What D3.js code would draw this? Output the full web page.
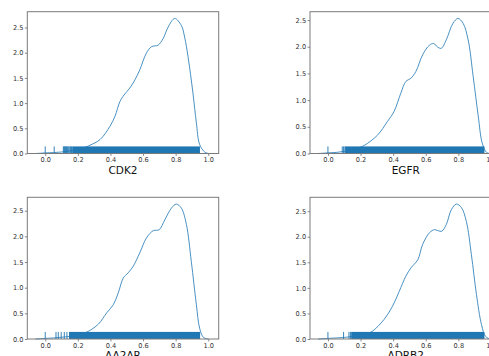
<!DOCTYPE html>
<html>
<head>
<meta charset="utf-8">
<script src="https://cdn.jsdelivr.net/npm/d3@7"></script>
<style>
  html, body { margin: 0; padding: 0; background: #fff; overflow: hidden; }
  svg { display: block; }
</style>
</head>
<body>
<svg id="chart" width="489" height="356"></svg>
<script>
// Target names shown under each panel
const targets = ["CDK2", "EGFR", "AA2AR", "ADRB2"];

// Kernel density estimates (score vs. density) for each target
const cdk2X = [-0.06, -0.03, 0.0, 0.05, 0.1, 0.15, 0.2, 0.25, 0.275, 0.336, 0.397, 0.428, 0.458, 0.483, 0.519, 0.55, 0.58, 0.62, 0.652, 0.692, 0.723, 0.754, 0.794, 0.835, 0.855, 0.876, 0.906, 0.927, 0.947, 0.978, 1.0];
const cdk2Y = [0.0, 0.005, 0.012, 0.018, 0.03, 0.05, 0.08, 0.13, 0.165, 0.276, 0.54, 0.74, 1.03, 1.16, 1.30, 1.46, 1.66, 1.99, 2.12, 2.15, 2.28, 2.51, 2.68, 2.54, 2.31, 1.92, 1.20, 0.61, 0.18, 0.03, 0.0];

const egfrX = [-0.06, -0.03, 0.0, 0.05, 0.1, 0.15, 0.2, 0.225, 0.303, 0.365, 0.406, 0.447, 0.478, 0.509, 0.54, 0.581, 0.623, 0.649, 0.67, 0.695, 0.726, 0.767, 0.798, 0.829, 0.86, 0.891, 0.922, 0.946, 0.973, 0.994];
const egfrY = [0.0, 0.005, 0.012, 0.02, 0.04, 0.07, 0.12, 0.155, 0.34, 0.60, 0.79, 1.13, 1.35, 1.41, 1.54, 1.85, 2.03, 2.06, 2.0, 1.97, 2.13, 2.44, 2.53, 2.44, 2.13, 1.44, 0.70, 0.20, 0.02, 0.0];

const aa2arX = [-0.06, -0.03, 0.0, 0.05, 0.1, 0.15, 0.2, 0.24, 0.265, 0.326, 0.377, 0.418, 0.448, 0.479, 0.509, 0.54, 0.58, 0.621, 0.662, 0.699, 0.733, 0.774, 0.804, 0.835, 0.866, 0.896, 0.927, 0.947, 0.971, 1.0];
const aa2arY = [0.0, 0.005, 0.012, 0.02, 0.035, 0.05, 0.08, 0.12, 0.15, 0.29, 0.51, 0.67, 0.90, 1.19, 1.29, 1.42, 1.68, 1.97, 2.11, 2.13, 2.32, 2.55, 2.63, 2.55, 2.23, 1.51, 0.67, 0.21, 0.03, 0.0];

const adrb2X = [-0.06, -0.03, 0.0, 0.05, 0.1, 0.15, 0.2, 0.25, 0.272, 0.344, 0.396, 0.437, 0.478, 0.509, 0.551, 0.581, 0.623, 0.654, 0.674, 0.699, 0.726, 0.757, 0.788, 0.819, 0.849, 0.88, 0.911, 0.942, 0.967, 0.994];
const adrb2Y = [0.0, 0.005, 0.012, 0.02, 0.03, 0.05, 0.07, 0.12, 0.15, 0.38, 0.64, 0.93, 1.23, 1.39, 1.55, 1.85, 2.08, 2.14, 2.12, 2.11, 2.24, 2.53, 2.64, 2.57, 2.30, 1.65, 0.87, 0.28, 0.05, 0.0];

// Rug: isolated low scores, then the dense run of observations [start, end]
const cdk2Rug = [0.0, 0.055, 0.111, 0.115, 0.119, 0.123, 0.127, 0.131, 0.136, 0.141, 0.146, 0.152, 0.156, 0.161, 0.166];
const cdk2Band = [0.168, 0.949];
const egfrRug = [0.0, 0.088, 0.096, 0.104, 0.108];
const egfrBand = [0.11, 0.96];
const aa2arRug = [0.0, 0.066, 0.08, 0.098, 0.117, 0.133];
const aa2arBand = [0.146, 0.95];
const adrb2Rug = [0.0, 0.096, 0.129, 0.138, 0.144];
const adrb2Band = [0.147, 0.96];

// Axis ticks
const xTicks = [0.0, 0.2, 0.4, 0.6, 0.8, 1.0];
const yTicks = [0.0, 0.5, 1.0, 1.5, 2.0, 2.5];

const panels = [
  { name: targets[0], xs: cdk2X, ys: cdk2Y, rug: cdk2Rug, band: cdk2Band, left: 27.3, top: 11.7, bottom: 153.5 },
  { name: targets[1], xs: egfrX, ys: egfrY, rug: egfrRug, band: egfrBand, left: 310, top: 11.7, bottom: 153.5 },
  { name: targets[2], xs: aa2arX, ys: aa2arY, rug: aa2arRug, band: aa2arBand, left: 27.3, top: 197.3, bottom: 339 },
  { name: targets[3], xs: adrb2X, ys: adrb2Y, rug: adrb2Rug, band: adrb2Band, left: 310, top: 197.3, bottom: 339 }
];

const axWidth = 191.4;
const blue = "#1f77b4";
const svg = d3.select("#chart");

panels.forEach(p => {
  const x = d3.scaleLinear().domain([-0.11, 1.064]).range([p.left, p.left + axWidth]);
  const yMax = d3.max(p.ys) * 1.05;
  const y = d3.scaleLinear().domain([0, yMax]).range([p.bottom, p.top]);
  const g = svg.append("g");

  // density curve
  const pts = p.xs.map((v, i) => [v, p.ys[i]]);
  g.append("path")
    .datum(pts)
    .attr("fill", "none")
    .attr("stroke", blue)
    .attr("stroke-width", 0.9)
    .attr("stroke-opacity", 0.9)
    .attr("d", d3.line().x(d => x(d[0])).y(d => y(d[1])).curve(d3.curveCatmullRom.alpha(0.5)));

  // rug: 5% of axes height
  const rugTop = p.bottom - 0.05 * (p.bottom - p.top);
  g.append("rect")
    .attr("x", x(p.band[0]))
    .attr("y", rugTop)
    .attr("width", x(p.band[1]) - x(p.band[0]))
    .attr("height", p.bottom - rugTop)
    .attr("fill", blue);
  g.selectAll("line.rug").data(p.rug).enter().append("line")
    .attr("class", "rug")
    .attr("x1", d => x(d)).attr("x2", d => x(d))
    .attr("y1", p.bottom).attr("y2", rugTop)
    .attr("stroke", blue)
    .attr("stroke-width", 0.9);

  // axes
  const xAxis = d3.axisBottom(x).tickValues(xTicks).tickFormat(d3.format(".1f")).tickSize(2.4).tickPadding(1.5);
  const yAxis = d3.axisLeft(y).tickValues(yTicks).tickFormat(d3.format(".1f")).tickSize(2.4).tickPadding(1.5);
  const gx = g.append("g").attr("transform", `translate(0,${p.bottom})`).call(xAxis);
  const gy = g.append("g").attr("transform", `translate(${p.left},0)`).call(yAxis);
  [gx, gy].forEach(a => {
    a.select(".domain").remove();
    a.selectAll(".tick line").attr("stroke", "#555").attr("stroke-width", 0.7);
    a.selectAll(".tick text")
      .attr("fill", "#333")
      .style("font-family", "DejaVu Sans")
      .style("font-size", "6.6px");
  });

  // frame
  g.append("rect")
    .attr("x", p.left).attr("y", p.top)
    .attr("width", axWidth).attr("height", p.bottom - p.top)
    .attr("fill", "none")
    .attr("stroke", "#7a7a7a")
    .attr("stroke-width", 1);

  // x label
  g.append("text")
    .attr("x", p.left + axWidth / 2)
    .attr("y", p.bottom + 20)
    .attr("text-anchor", "middle")
    .attr("fill", "#111")
    .style("font-family", "DejaVu Sans")
    .style("font-size", "10.5px")
    .text(p.name);
});
</script>
</body>
</html>
